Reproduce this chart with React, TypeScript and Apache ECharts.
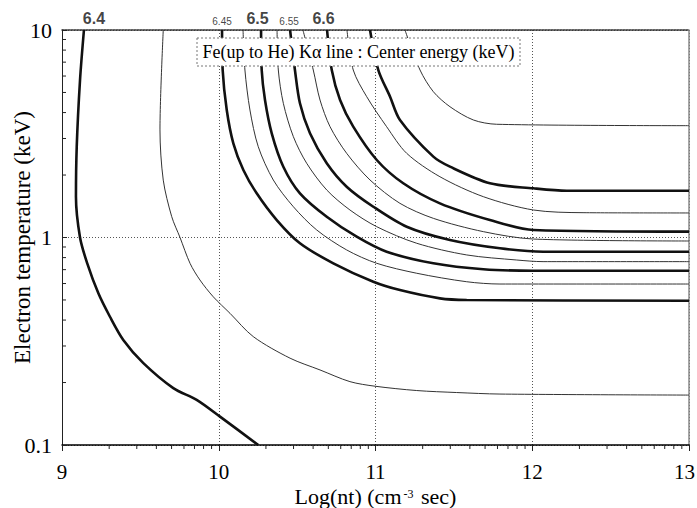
import React, { useEffect, useRef } from "react";
import * as echarts from "echarts";

// Axis ticks
const xTicks = [9, 10, 11, 12, 13];
const yTicks = [0.1, 1, 10];

// Contour lines: [log(nt), Te (keV)]
const c6400 = [[9.14,10],[9.115,5.74],[9.094,2.74],[9.089,1.57],[9.115,1.0],[9.161,0.75],[9.232,0.538],[9.306,0.415],[9.391,0.321],[9.519,0.248],[9.71,0.188],[9.859,0.165],[10.008,0.137],[10.252,0.1]];
const c6425 = [[9.646,10],[9.625,3.3],[9.646,1.89],[9.7,1.26],[9.753,1.0],[9.817,0.75],[9.88,0.624],[9.965,0.518],[10.072,0.431],[10.22,0.333],[10.455,0.262],[10.646,0.23],[10.837,0.202],[10.997,0.192],[11.263,0.183],[11.518,0.179],[11.794,0.176],[13,0.174]];
const c6450 = [[10.021,10],[10.025,6.415],[10.051,4.116],[10.093,2.844],[10.157,2.115],[10.242,1.633],[10.37,1.214],[10.518,0.938],[10.731,0.751],[10.986,0.612],[11.156,0.558],[11.411,0.509],[11.582,0.5],[13,0.4955]];
const c6475 = [[10.155,10],[10.167,6.415],[10.199,4.116],[10.252,2.739],[10.348,1.893],[10.476,1.407],[10.625,1.087],[10.816,0.871],[11.008,0.751],[11.263,0.6725],[11.582,0.612],[11.794,0.5967],[13,0.5967]];
const c6500 = [[10.27,10],[10.274,6.415],[10.295,4.599],[10.338,3.178],[10.412,2.194],[10.518,1.633],[10.689,1.259],[10.88,1.009],[11.071,0.854],[11.369,0.751],[11.688,0.703],[12.007,0.692],[13,0.692]];
const c6525 = [[10.372,10],[10.38,6.415],[10.412,4.433],[10.476,3.061],[10.561,2.279],[10.689,1.694],[10.837,1.357],[11.008,1.127],[11.263,0.938],[11.582,0.824],[11.901,0.779],[12.069,0.765],[13,0.765]];
const c6550 = [[10.455,10],[10.486,6.415],[10.518,4.433],[10.582,3.178],[10.689,2.279],[10.816,1.757],[10.986,1.407],[11.199,1.127],[11.475,0.973],[11.794,0.887],[12.07,0.854],[13,0.854]];
const c6575 = [[10.537,10],[10.603,6.415],[10.646,4.599],[10.71,3.42],[10.816,2.545],[10.965,1.893],[11.156,1.461],[11.369,1.237],[11.688,1.067],[12.007,0.983],[13,0.962]];
const c6600 = [[10.691,10],[10.721,6.415],[10.774,4.599],[10.858,3.42],[11.008,2.363],[11.177,1.825],[11.411,1.461],[11.73,1.214],[12.007,1.087],[13,1.067]];
const c6625 = [[10.818,10],[10.858,6.415],[10.944,4.77],[11.071,3.42],[11.199,2.545],[11.411,1.963],[11.688,1.573],[12.007,1.357],[12.324,1.317],[13,1.313]];
const c6650 = [[10.965,10],[11.018,6.415],[11.093,4.77],[11.156,3.685],[11.369,2.452],[11.475,2.194],[11.73,1.825],[12.007,1.726],[12.22,1.681],[13,1.681]];
const c6675 = [[11.188,10],[11.284,6.415],[11.369,5.043],[11.475,4.269],[11.624,3.685],[11.773,3.513],[13,3.459]];

const contourData = [c6400, c6425, c6450, c6475, c6500, c6525, c6550, c6575, c6600, c6625, c6650, c6675];
const contourLevels = ["6.4", "6.425", "6.45", "6.475", "6.5", "6.525", "6.55", "6.575", "6.6", "6.625", "6.65", "6.675"];
const contourMajor = [true, false, true, false, true, false, true, false, true, false, true, false];

// Labels written at the top of the frame
const topLabels = ["6.4", "6.45", "6.5", "6.55", "6.6"];
const topLabelBig = [true, false, true, false, true];
const topLabelOffset = [10, 0, -3.5, -1, -3.5];

const legendText = "Fe(up to He) K\u03b1 line : Center energy (keV)";
const xName = "Log(nt) (cm{sup|-3} sec)";
const yName = "Electron temperature (keV)";

const SERIF = '"Liberation Serif", "Times New Roman", serif';
const SANS = '"Liberation Sans", Arial, sans-serif';

export default function App() {
  const ref = useRef<HTMLDivElement>(null);
  useEffect(() => {
    if (!ref.current) return;
    const chart = echarts.init(ref.current, null, { renderer: "svg" });

    const xMinor: number[][] = [];
    for (let d = 9; d < 13; d++) for (let k = 2; k <= 9; k++) xMinor.push([d + Math.log10(k), 0.1]);
    const yMinor: number[][] = [];
    for (const dec of [0.1, 1]) for (let k = 2; k <= 9; k++) yMinor.push([9, +(dec * k).toFixed(3)]);

    const lineSeries = contourData.map((pts, i) => ({
      type: "line",
      name: contourLevels[i],
      data: pts,
      showSymbol: false,
      smooth: 0.3,
      xAxisIndex: 0,
      yAxisIndex: 0,
      lineStyle: {
        color: contourMajor[i] ? "#111" : "#333",
        width: contourMajor[i] ? 2.6 : 1,
      },
      z: 3,
      silent: true,
    }));

    const labelData = topLabels.map((lab, j) => {
      const idx = contourLevels.indexOf(lab);
      const p = contourData[idx][0];
      return {
        value: [p[0], p[1]],
        label: {
          show: true,
          formatter: lab,
          position: "top",
          distance: 3,
          offset: [topLabelOffset[j], 0],
          fontFamily: SANS,
          fontSize: topLabelBig[j] ? 16 : 10,
          fontWeight: topLabelBig[j] ? "bold" : "normal",
          color: "#111",
        },
      };
    });

    const tickLine = (dx: number, dy: number) => (params: any, api: any) => {
      const p = api.coord([api.value(0), api.value(1)]);
      return {
        type: "line",
        shape: { x1: p[0], y1: p[1], x2: p[0] + dx, y2: p[1] + dy },
        style: { stroke: "#222", lineWidth: 1 },
      };
    };

    const lastX = xTicks[xTicks.length - 1];

    chart.setOption({
      animation: false,
      backgroundColor: "#fff",
      grid: { left: 62, right: 8, top: 30, bottom: 63, containLabel: false, outerBoundsMode: "none" },
      xAxis: [
        {
          type: "value",
          min: xTicks[0],
          max: lastX,
          interval: 1,
          position: "bottom",
          name: xName,
          nameLocation: "middle",
          nameGap: 41,
          nameMoveOverlap: false,
          nameTextStyle: {
            fontFamily: SERIF,
            fontSize: 22,
            lineHeight: 21,
            color: "#000",
            rich: { sup: { fontFamily: SERIF, fontSize: 12, lineHeight: 13, color: "#000", padding: [0, 2, 6, 2] } },
          },
          axisLine: { show: true, lineStyle: { color: "#000", width: 1.5 } },
          axisTick: { show: true, inside: false, length: 6, lineStyle: { color: "#222" } },
          axisLabel: {
            fontFamily: SERIF,
            fontSize: 21,
            lineHeight: 17,
            color: "#000",
            margin: 18,
            formatter: (v: number) => (v === lastX ? "{r|" + v + "}" : String(v)),
            rich: { r: { fontFamily: SERIF, fontSize: 21, lineHeight: 17, color: "#000", padding: [0, 9, 0, 0] } },
          },
          splitLine: { show: true, lineStyle: { color: "#555", type: [1, 2], width: 1 } },
        },
        {
          type: "value",
          min: 9,
          max: 13,
          interval: 1,
          position: "top",
          axisLine: { show: true, lineStyle: { color: "#333", width: 1.5, type: [2, 1] } },
          axisTick: { show: false },
          axisLabel: { show: false },
          splitLine: { show: false },
        },
      ],
      yAxis: [
        {
          type: "log",
          logBase: 10,
          min: yTicks[0],
          max: yTicks[yTicks.length - 1],
          position: "left",
          name: yName,
          nameLocation: "middle",
          nameGap: 28,
          nameMoveOverlap: false,
          nameRotate: 90,
          nameTextStyle: { fontFamily: SERIF, fontSize: 23, color: "#000" },
          axisLine: { show: true, lineStyle: { color: "#222", width: 1 } },
          axisTick: { show: true, inside: true, length: 5, lineStyle: { color: "#222" } },
          minorTick: { show: false },
          axisLabel: {
            fontFamily: SERIF,
            fontSize: 22,
            color: "#000",
            margin: 10,
            formatter: (v: number) => String(+v.toPrecision(3)),
          },
          splitLine: { show: true, lineStyle: { color: "#555", type: [1, 2], width: 1 } },
        },
        {
          type: "log",
          logBase: 10,
          min: 0.1,
          max: 10,
          position: "right",
          axisLine: { show: true, lineStyle: { color: "#888", width: 1.5 } },
          axisTick: { show: false },
          axisLabel: { show: false },
          splitLine: { show: false },
        },
      ],
      series: [
        ...lineSeries,
        {
          type: "scatter",
          data: labelData,
          symbol: "circle",
          symbolSize: 1,
          itemStyle: { color: "rgba(0,0,0,0)" },
          silent: true,
          z: 5,
        },
        {
          type: "custom",
          data: xMinor,
          renderItem: tickLine(0, 4),
          clip: false,
          silent: true,
          z: 4,
        },
        {
          type: "custom",
          data: yMinor,
          renderItem: tickLine(4, 0),
          clip: false,
          silent: true,
          z: 4,
        },
      ],
      graphic: [
        {
          type: "rect",
          z: 100,
          shape: { x: 197, y: 38, width: 323, height: 28 },
          style: { fill: "#fff", stroke: "#777", lineWidth: 1, lineDash: [2, 2] },
        },
        {
          type: "text",
          z: 101,
          x: 358.5,
          y: 52,
          style: {
            text: legendText,
            fontFamily: SERIF,
            fontSize: 18,
            fill: "#000",
            align: "center",
            verticalAlign: "middle",
          },
        },
      ],
    });

    return () => chart.dispose();
  }, []);

  return (
    <div
      ref={ref}
      style={{ position: "absolute", left: 0, top: 0, width: 697, height: 508, background: "#fff" }}
    />
  );
}
